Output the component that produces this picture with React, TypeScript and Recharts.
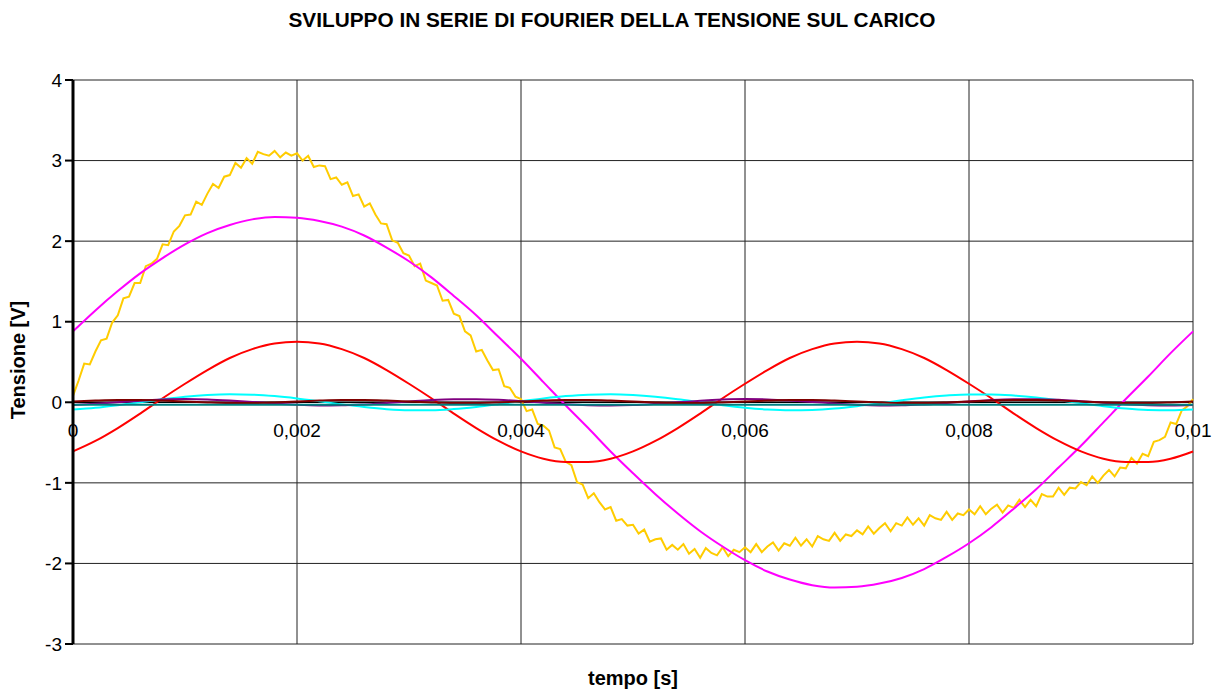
import React from 'react';
import { LineChart, Line, XAxis, YAxis, CartesianGrid, ReferenceLine, ReferenceDot } from 'recharts';

const FONT = "Arial, 'Liberation Sans', sans-serif";

const xTicks = [0, 0.002, 0.004, 0.006, 0.008, 0.01];
const yTicks = [-3, -2, -1, 0, 1, 2, 3, 4];

// measured load voltage, one sample every 0.05 ms
const signal = [
  0.08, 0.27, 0.48, 0.47, 0.63, 0.77, 0.79, 0.99, 1.08, 1.29,
  1.31, 1.48, 1.48, 1.69, 1.72, 1.78, 1.96, 1.95, 2.12, 2.19,
  2.32, 2.33, 2.49, 2.45, 2.59, 2.71, 2.66, 2.8, 2.82, 2.97,
  2.91, 3.03, 2.96, 3.11, 3.08, 3.06, 3.12, 3.04, 3.1, 3.06,
  3.09, 3.0, 3.06, 2.92, 2.94, 2.93, 2.77, 2.79, 2.7, 2.73,
  2.56, 2.58, 2.43, 2.47, 2.33, 2.22, 2.21, 2.01, 1.98, 1.85,
  1.82, 1.69, 1.72, 1.51, 1.48, 1.45, 1.26, 1.27, 1.1, 1.07,
  0.88, 0.83, 0.63, 0.65, 0.52, 0.4, 0.41, 0.2, 0.18, 0.07,
  0.04, -0.11, -0.09, -0.27, -0.29, -0.35, -0.56, -0.58, -0.74, -0.78,
  -0.99, -1.02, -1.19, -1.13, -1.24, -1.33, -1.3, -1.47, -1.45, -1.53,
  -1.52, -1.63, -1.58, -1.73, -1.7, -1.69, -1.83, -1.77, -1.83, -1.76,
  -1.88, -1.82, -1.93, -1.81, -1.87, -1.9, -1.8, -1.91, -1.83, -1.86,
  -1.8, -1.86, -1.76, -1.86, -1.79, -1.74, -1.84, -1.75, -1.78, -1.68,
  -1.78, -1.7, -1.79, -1.66, -1.7, -1.72, -1.62, -1.72, -1.64, -1.66,
  -1.59, -1.64, -1.54, -1.63, -1.56, -1.5, -1.6, -1.5, -1.53, -1.43,
  -1.52, -1.44, -1.53, -1.4, -1.44, -1.46, -1.36, -1.46, -1.38, -1.4,
  -1.33, -1.39, -1.29, -1.39, -1.32, -1.27, -1.37, -1.28, -1.31, -1.21,
  -1.3, -1.21, -1.29, -1.14, -1.17, -1.17, -1.06, -1.15, -1.06, -1.07,
  -0.99, -1.03, -0.92, -1.0, -0.91, -0.84, -0.92, -0.81, -0.82, -0.69,
  -0.76, -0.64, -0.67, -0.49, -0.47, -0.43, -0.25, -0.27, -0.1, -0.05,
  0.04,
];

// harmonics, one sample every 0.2 ms
const harmonic1 = [
  0.88, 1.14, 1.38, 1.6, 1.79, 1.96, 2.1, 2.2, 2.27, 2.3,
  2.29, 2.25, 2.18, 2.07, 1.92, 1.75, 1.55, 1.32, 1.08, 0.81,
  0.54, 0.25, -0.04, -0.32, -0.61, -0.88, -1.14, -1.38, -1.6, -1.79,
  -1.96, -2.1, -2.2, -2.27, -2.3, -2.29, -2.25, -2.18, -2.07, -1.92,
  -1.75, -1.55, -1.32, -1.08, -0.81, -0.54, -0.25, 0.04, 0.32, 0.61,
  0.88,
];
const harmonic2 = [
  -0.61, -0.48, -0.32, -0.14, 0.05, 0.23, 0.4, 0.55, 0.66, 0.73,
  0.75, 0.73, 0.66, 0.55, 0.4, 0.23, 0.05, -0.14, -0.32, -0.48,
  -0.61, -0.7, -0.74, -0.74, -0.7, -0.61, -0.48, -0.32, -0.14, 0.05,
  0.23, 0.4, 0.55, 0.66, 0.73, 0.75, 0.73, 0.66, 0.55, 0.4,
  0.23, 0.05, -0.14, -0.32, -0.48, -0.61, -0.7, -0.74, -0.74, -0.7,
  -0.61,
];
const harmonic3 = [
  -0.09, -0.068, -0.036, 0.001, 0.037, 0.069, 0.091, 0.1, 0.095, 0.077,
  0.048, 0.012, -0.026, -0.059, -0.085, -0.098, -0.098, -0.084, -0.058, -0.024,
  0.013, 0.048, 0.077, 0.095, 0.1, 0.09, 0.068, 0.037, 0.0, -0.037,
  -0.068, -0.09, -0.1, -0.095, -0.077, -0.048, -0.013, 0.025, 0.059, 0.084,
  0.098, 0.098, 0.084, 0.059, 0.025, -0.013, -0.048, -0.077, -0.095, -0.1,
  -0.09,
];
const harmonic4 = [
  -0.034, -0.019, 0.0, 0.02, 0.034, 0.04, 0.036, 0.023, 0.005, -0.015,
  -0.031, -0.039, -0.038, -0.027, -0.009, 0.01, 0.028, 0.038, 0.039, 0.031,
  0.014, -0.005, -0.024, -0.036, -0.04, -0.034, -0.019, 0.0, 0.02, 0.034,
  0.04, 0.036, 0.023, 0.005, -0.015, -0.031, -0.039, -0.038, -0.027, -0.009,
  0.01, 0.028, 0.038, 0.039, 0.031, 0.014, -0.005, -0.024, -0.036, -0.04,
  -0.034,
];
const harmonic5 = [
  0.01, 0.022, 0.029, 0.029, 0.022, 0.01, -0.002, -0.009, -0.009, -0.002,
  0.01, 0.022, 0.029, 0.029, 0.022, 0.01, -0.002, -0.009, -0.009, -0.002,
  0.01, 0.022, 0.029, 0.029, 0.022, 0.01, -0.002, -0.009, -0.009, -0.002,
  0.01, 0.022, 0.029, 0.029, 0.022, 0.01, -0.002, -0.009, -0.009, -0.002,
  0.01, 0.022, 0.029, 0.029, 0.022, 0.01, -0.002, -0.009, -0.009, -0.002,
  0.01,
];
const dcTime = [0, 0.01];
const dc = [-0.03, -0.03];

const signalData = signal.map((v, i) => ({ t: +(i * 0.00005).toFixed(5), v }));
const harmonicData = harmonic1.map((h1, i) => ({
  t: +(i * 0.0002).toFixed(4),
  h1,
  h2: harmonic2[i],
  h3: harmonic3[i],
  h4: harmonic4[i],
  h5: harmonic5[i],
}));
const dcData = dcTime.map((t, i) => ({ t, v: dc[i] }));

const fmt = (v: number) => String(v).replace('.', ',');

const App: React.FC = () => {
  return (
    <div style={{ position: 'relative', width: 1215, height: 682, fontFamily: FONT, background: '#fff' }}>
      <div
        style={{
          position: 'absolute', top: 0, left: 0, width: 1208, textAlign: 'center',
          fontWeight: 'bold', fontSize: 20.8, lineHeight: '24px', color: '#000',
        }}
      >
        SVILUPPO IN SERIE DI FOURIER DELLA TENSIONE SUL CARICO
      </div>
      <div
        style={{
          position: 'absolute', left: 10, top: 352, transform: 'translate(-50%, -50%) rotate(-90deg)',
          whiteSpace: 'nowrap', fontWeight: 'bold', fontSize: 20, color: '#000',
        }}
      >
        Tensione [V]
      </div>
      <div
        style={{
          position: 'absolute', left: 0, top: 658, width: 1250, textAlign: 'center',
          fontWeight: 'bold', fontSize: 20, lineHeight: '24px', color: '#000',
        }}
      >
        tempo [s]
      </div>
      <LineChart width={1215} height={682} margin={{ top: 72, right: 30, bottom: 44, left: 0 }}>
        <CartesianGrid stroke="#222" strokeWidth={1} vertical={false} />
        <XAxis
          dataKey="t"
          type="number"
          domain={[0, 0.01]}
          ticks={xTicks}
          tick={false}
          axisLine={false}
          tickLine={false}
          height={2}
          allowDuplicatedCategory={false}
        />
        <YAxis
          type="number"
          domain={[-3, 4]}
          ticks={yTicks}
          width={65}
          tickSize={8}
          tickMargin={3}
          axisLine={{ stroke: '#000', strokeWidth: 3 }}
          tickLine={{ stroke: '#000', strokeWidth: 2 }}
          tick={{ fill: '#000', fontSize: 19, fontFamily: FONT }}
        />
        {xTicks.slice(1).map((t) => (
          <ReferenceLine key={'v' + t} x={t} stroke="#222" strokeWidth={1} />
        ))}
        <ReferenceLine y={0} stroke="#000" strokeWidth={1.5} />
        <Line data={signalData} dataKey="v" type="linear" stroke="#FFCC00" strokeWidth={2} dot={false} isAnimationActive={false} />
        <Line data={harmonicData} dataKey="h1" type="monotone" stroke="#FF00FF" strokeWidth={2} dot={false} isAnimationActive={false} />
        <Line data={harmonicData} dataKey="h2" type="monotone" stroke="#FF0000" strokeWidth={2} dot={false} isAnimationActive={false} />
        <Line data={harmonicData} dataKey="h3" type="monotone" stroke="#00FFFF" strokeWidth={2} dot={false} isAnimationActive={false} />
        <Line data={harmonicData} dataKey="h4" type="monotone" stroke="#800080" strokeWidth={2} dot={false} isAnimationActive={false} />
        <Line data={harmonicData} dataKey="h5" type="monotone" stroke="#800000" strokeWidth={2} dot={false} isAnimationActive={false} />
        <Line data={dcData} dataKey="v" type="linear" stroke="#008080" strokeWidth={2} dot={false} isAnimationActive={false} />
        {xTicks.map((t) => (
          <ReferenceDot
            key={t}
            x={t}
            y={0}
            r={1}
            fill="none"
            stroke="none"
            label={{ value: fmt(t), position: 'bottom', offset: 20, fill: '#000', fontSize: 19, fontFamily: FONT }}
          />
        ))}
      </LineChart>
    </div>
  );
};

export default App;
